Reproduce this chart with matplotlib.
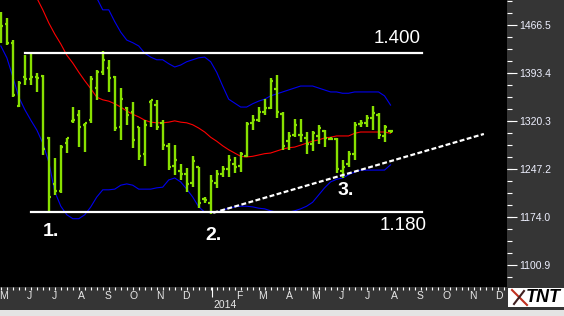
import numpy as np
import pandas as pd
import matplotlib
matplotlib.use("Agg")
import matplotlib.pyplot as plt
import matplotlib.dates as mdates
from matplotlib.ticker import FixedLocator
from matplotlib.patches import Rectangle

# weekly bars, one per monday
weeks = pd.date_range("2013-04-29", periods=66, freq="7D")

bar_high = [1487, 1478, 1444, 1382, 1421, 1424, 1394, 1391, 1296, 1264,
            1284, 1295, 1342, 1338, 1318, 1389, 1398, 1427, 1414, 1389,
            1371, 1342, 1350, 1312, 1323, 1353, 1353, 1323, 1288, 1284,
            1255, 1249, 1268, 1251, 1205, 1239, 1246, 1252, 1269, 1266,
            1273, 1319, 1330, 1342, 1354, 1386, 1391, 1334, 1304, 1324,
            1324, 1304, 1306, 1315, 1307, 1296, 1295, 1261, 1275, 1319,
            1322, 1330, 1343, 1333, 1315, 1307]
bar_low = [1440, 1437, 1357, 1342, 1376, 1376, 1365, 1269, 1182, 1208,
           1211, 1272, 1318, 1281, 1274, 1318, 1353, 1391, 1365, 1305,
           1292, 1315, 1280, 1261, 1252, 1311, 1307, 1277, 1246, 1239,
           1231, 1213, 1220, 1188, 1196, 1179, 1219, 1236, 1236, 1242,
           1243, 1266, 1307, 1319, 1330, 1339, 1325, 1277, 1277, 1296,
           1289, 1271, 1275, 1286, 1281, 1293, 1242, 1234, 1251, 1261,
           1311, 1312, 1307, 1293, 1289, 1302]
bar_open = [1480, 1468, 1440, 1344, 1388, 1385, 1388, 1389, 1295, 1225,
            1214, 1287, 1320, 1330, 1315, 1322, 1371, 1395, 1401, 1388,
            1312, 1340, 1334, 1311, 1270, 1350, 1345, 1318, 1283, 1252,
            1245, 1240, 1226, 1250, 1202, 1196, 1226, 1240, 1248, 1255,
            1252, 1268, 1318, 1322, 1335, 1340, 1370, 1332, 1290, 1300,
            1300, 1295, 1285, 1298, 1305, 1294, 1293, 1245, 1255, 1270,
            1316, 1317, 1325, 1330, 1298, 1305]
bar_close = [1466, 1440, 1360, 1378, 1384, 1388, 1386, 1278, 1205, 1214,
             1281, 1295, 1323, 1312, 1318, 1384, 1395, 1413, 1386, 1310,
             1354, 1330, 1292, 1268, 1315, 1352, 1312, 1284, 1250, 1262,
             1240, 1225, 1260, 1196, 1200, 1230, 1240, 1248, 1262, 1250,
             1270, 1316, 1323, 1335, 1340, 1382, 1335, 1282, 1298, 1315,
             1300, 1285, 1303, 1310, 1295, 1294, 1248, 1250, 1270, 1315,
             1318, 1325, 1333, 1300, 1312, 1305]

# moving average (red) from week 5, upper band from week 15, lower band all weeks
ma_first = 5
ma_mid = [1528, 1508, 1490, 1470, 1453, 1438, 1421, 1409, 1395, 1382,
          1370, 1357, 1353, 1351, 1347, 1342, 1336, 1331, 1327, 1322,
          1319, 1318, 1318, 1319, 1321, 1319, 1318, 1315, 1310, 1304,
          1296, 1290, 1283, 1277, 1272, 1267, 1266, 1267, 1269, 1271,
          1272, 1275, 1278, 1280, 1281, 1284, 1287, 1290, 1292, 1295,
          1296, 1298, 1298, 1298, 1302, 1304, 1304, 1304, 1304, 1304,
          1302]
upper_first = 15
band_upper = [1536, 1508, 1490, 1490, 1472, 1456, 1444, 1440, 1435, 1424,
              1418, 1414, 1414, 1408, 1403, 1406, 1411, 1414, 1417, 1418,
              1411, 1395, 1374, 1354, 1348, 1342, 1342, 1347, 1351, 1354,
              1359, 1362, 1365, 1368, 1371, 1374, 1374, 1374, 1371, 1368,
              1365, 1365, 1363, 1363, 1365, 1365, 1365, 1365, 1365, 1359,
              1345]
band_lower = [1435, 1417, 1388, 1357, 1338, 1322, 1307, 1287, 1258, 1213,
              1191, 1178, 1172, 1172, 1178, 1190, 1205, 1216, 1216, 1217,
              1223, 1225, 1223, 1217, 1217, 1217, 1219, 1220, 1231, 1234,
              1228, 1217, 1205, 1190, 1182, 1181, 1182, 1185, 1188, 1190,
              1191, 1191, 1190, 1188, 1187, 1184, 1182, 1182, 1182, 1184,
              1187, 1191, 1197, 1208, 1219, 1228, 1232, 1234, 1239, 1243,
              1246, 1246, 1246, 1246, 1246, 1254]

price_ticks = [1100.9, 1174.0, 1247.2, 1320.3, 1393.4, 1466.5]
month_starts = pd.date_range("2013-05-01", periods=20, freq="MS")
month_letters = ["M", "J", "J", "A", "S", "O", "N", "D", "", "F",
                 "M", "A", "M", "J", "J", "A", "S", "O", "N", "D"]

resistance = 1425
support = 1182
trend_dates = ["2014-01-02", "2014-11-14"]
trend_prices = [1181, 1301]

green = "#88e000"
panel = "#353535"

fig = plt.figure(figsize=(5.64, 3.16), dpi=100, facecolor=panel)
ax = fig.add_axes([0, 29 / 316, 507 / 564, 287 / 316], facecolor="black")

x = mdates.date2num(weeks.to_numpy())
d = lambda s: mdates.date2num(np.datetime64(s))

ax.plot(x[ma_first:], ma_mid, color="#ff0000", lw=0.8, zorder=2)
ax.plot(x[upper_first:], band_upper, color="#0000ee", lw=0.8, zorder=2)
ax.plot(x, band_lower, color="#0000ee", lw=0.8, zorder=2)

# OHLC bars
ax.vlines(x, bar_low, bar_high, color=green, lw=1.7, zorder=3)
ax.hlines(bar_open, x - 2.6, x, color=green, lw=1.6, zorder=3)
ax.hlines(bar_close, x, x + 2.6, color=green, lw=1.6, zorder=3)

# levels and trend line
ax.plot([d("2013-05-27"), d("2014-09-03")], [resistance] * 2, color="white", lw=1.6, zorder=4)
ax.plot([d("2013-06-03"), d("2014-09-03")], [support] * 2, color="white", lw=1.6, zorder=4)
ax.plot([d(t) for t in trend_dates], trend_prices, color="white", lw=1.6,
        ls=(0, (2.2, 1.1)), zorder=4)

txt = dict(color="white", family="Liberation Sans", zorder=5)
ax.text(d("2014-08-05"), 1446, "1.400", fontsize=13.5, ha="center", va="center", **txt)
ax.text(d("2014-08-12"), 1161, "1.180", fontsize=13.5, ha="center", va="center", **txt)
ax.text(d("2013-06-17"), 1152, "1.", fontsize=14, weight="bold", ha="left", va="center", **txt)
ax.text(d("2013-12-24"), 1146, "2.", fontsize=14, weight="bold", ha="left", va="center", **txt)
ax.text(d("2014-05-27"), 1215, "3.", fontsize=14, weight="bold", ha="left", va="center", **txt)

ax.set_xlim(d("2013-04-28"), d("2014-12-11"))
ax.set_ylim(1068, 1505)
for s in ax.spines.values():
    s.set_visible(False)

# price axis on the right
ax.yaxis.tick_right()
ax.set_yticks(price_ticks)
ax.set_yticklabels([f"{v:.1f}" for v in price_ticks])
step = (price_ticks[-1] - price_ticks[0]) / 20
ax.yaxis.set_minor_locator(FixedLocator(np.arange(price_ticks[0] - 2 * step, 1506, step)))
ax.tick_params(axis="y", which="major", length=7.2, width=0.8, color="white",
               labelcolor="#eef0ff", labelsize=7.5, pad=1.5)
ax.tick_params(axis="y", which="minor", length=3.6, width=0.8, color="white")
for lab in ax.get_yticklabels():
    lab.set_family("Liberation Sans")

# time axis
ax.set_xticks([d("2014-01-01")])
ax.set_xticklabels([""])
all_weeks = pd.date_range("2013-04-29", "2014-12-15", freq="7D")
ax.xaxis.set_minor_locator(FixedLocator(mdates.date2num(all_weeks.to_numpy())))
ax.tick_params(axis="x", which="major", length=7.2, width=0.8, color="white")
ax.tick_params(axis="x", which="minor", length=2, width=0.8, color="white")

for i, (m, lab) in enumerate(zip(month_starts, month_letters)):
    # first letter sits at the very left edge, keep it inside the frame
    ax.annotate(lab, xy=(mdates.date2num(m.to_datetime64()), 0), xycoords=("data", "axes fraction"),
                xytext=(-2.5 if i == 0 else 0, -6.5), textcoords="offset points",
                ha="left" if i == 0 else "center", va="center",
                color="#e8e8e8", fontsize=7.5, family="Liberation Sans")
ax.annotate("2014", xy=(d("2014-01-01"), 0), xycoords=("data", "axes fraction"),
            xytext=(1, -13), textcoords="offset points", ha="left", va="center",
            color="#e8e8e8", fontsize=7.5, family="Liberation Sans")

# bottom strip and logo
fig.patches.append(Rectangle((0, 0), 1, 6 / 316, transform=fig.transFigure,
                             facecolor="#e4e4e4", edgecolor="none"))
fig.patches.append(Rectangle((508 / 564, 9 / 316), 56 / 564, 19 / 316, transform=fig.transFigure,
                             facecolor="white", edgecolor="none"))
fig.lines.append(plt.Line2D([512 / 564, 527 / 564], [26 / 316, 11 / 316], transform=fig.transFigure,
                            color="#c03020", lw=1.5))
fig.lines.append(plt.Line2D([514 / 564, 524 / 564], [12 / 316, 25 / 316], transform=fig.transFigure,
                            color="#402020", lw=1.5))
fig.text(526 / 564, 18.5 / 316, "TNT", fontsize=13, weight="bold", style="italic",
         family="Liberation Sans", color="black", ha="left", va="center")

fig.savefig("out.png", dpi=100, facecolor=panel)
